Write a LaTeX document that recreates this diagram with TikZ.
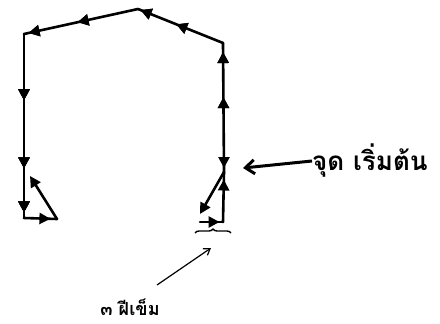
\documentclass[tikz,border=0pt]{standalone}
\usepackage{fontspec}
\newfontfamily\thaifont[Script=Thai]{Loma}
\usetikzlibrary{arrows.meta,decorations.markings,decorations.pathreplacing}
\begin{document}
\begin{tikzpicture}[x=1pt,y=-1pt,
  stitch/.style={line width=2.6pt,line cap=round,line join=round},
  tip/.style={-{Triangle[length=11pt,width=11pt]}},
  midarr/.style={decoration={markings,mark=at position #1 with {\arrow{Triangle[length=11pt,width=11pt]}}},postaction=decorate},
  pointer/.style={line width=1.2pt,-{Straight Barb[length=6pt,width=8pt]}},
  bigpointer/.style={line width=3pt,-{Straight Barb[length=9pt,width=14pt,line width=3pt]}},
  lbl/.style={inner sep=0pt}]
\useasboundingbox (0,0) rectangle (440,324);
% corners
\coordinate (TL) at (24,34);
\coordinate (PK) at (138,9);
\coordinate (RT) at (223,43);
\coordinate (LB) at (24,218);
\coordinate (LE) at (57,219);
\coordinate (LD) at (30,176);
\coordinate (S) at (224,172);
\coordinate (RD) at (200,214);
\coordinate (RBL) at (200,222);
\coordinate (RBR) at (223,222);
% outline
\draw[stitch,midarr=0.55,midarr=0.97] (RT) -- (PK);
\draw[stitch,midarr=0.53,midarr=0.96] (PK) -- (TL);
\draw[stitch,midarr=0.36,midarr=0.73,midarr=0.97] (TL) -- (LB);
\draw[stitch,midarr=0.8] (LB) -- (LE);
\draw[stitch,tip] (LE) -- (LD);
\draw[stitch,midarr=0.58,midarr=0.93] (S) -- (RT);
\draw[stitch,tip] (224,140) -- (224,168);
\draw[stitch,tip] (S) -- (RD);
\draw[stitch,midarr=0.85] (RBL) -- (RBR);
\draw[stitch,midarr=0.85] (RBR) -- (S);
% labels
\node[lbl,font=\thaifont\bfseries\fontsize{26}{30}\selectfont,anchor=west] (start) at (312,161) {จุด เริ่มต้น};
\node[lbl,font=\thaifont\bfseries\fontsize{18}{22}\selectfont,anchor=base] (three) at (130,315) {๓ ฝีเข็ม};
\coordinate (brL) at (195,233);
\coordinate (brR) at (231,233);
\draw[line width=1.4pt,decorate,decoration={brace,mirror,amplitude=4pt}] (brR) -- (brL);
\coordinate (brTip) at (211,248);
\coordinate (ptrS) at (157,285);
\draw[bigpointer] (start.west) -- (243,168);
\draw[pointer] (ptrS) -- (brTip);
\end{tikzpicture}
\end{document}
